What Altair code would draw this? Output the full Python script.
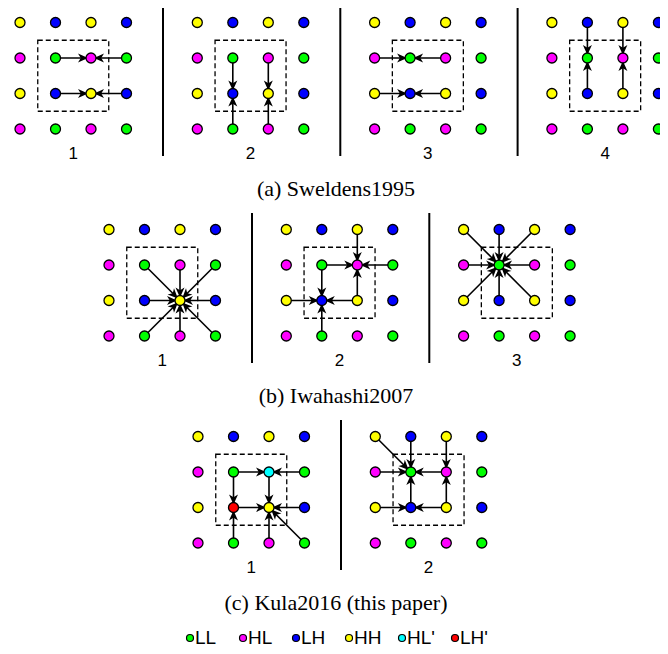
import math
import altair as alt
import pandas as pd

# ---------------- data ----------------
BANDS = ["LL", "HL", "LH", "HH", "HL'", "LH'"]
BAND_COLORS = ["#00ff00", "#ff00ff", "#0000ff", "#ffff00", "#00ffff", "#ff0000"]
COLOR_OF = dict(zip(BANDS, BAND_COLORS))

BASE_GRID = [
    ["HH", "LH", "HH", "LH"],
    ["HL", "LL", "HL", "LL"],
    ["HH", "LH", "HH", "LH"],
    ["HL", "LL", "HL", "LL"],
]
KULA_GRID_1 = [
    ["HH", "LH", "HH", "LH"],
    ["HL", "LL", "HL'", "LL"],
    ["HH", "LH'", "HH", "LH"],
    ["HL", "LL", "HL", "LL"],
]

# arrows: (row_from, col_from, row_to, col_to)
SWELDENS_STEPS = [
    [(1, 1, 1, 2), (1, 3, 1, 2), (2, 1, 2, 2), (2, 3, 2, 2)],
    [(1, 1, 2, 1), (3, 1, 2, 1), (1, 2, 2, 2), (3, 2, 2, 2)],
    [(1, 0, 1, 1), (1, 2, 1, 1), (2, 0, 2, 1), (2, 2, 2, 1)],
    [(0, 1, 1, 1), (2, 1, 1, 1), (0, 2, 1, 2), (2, 2, 1, 2)],
]
IWAHASHI_STEPS = [
    [(1, 1, 2, 2), (1, 2, 2, 2), (1, 3, 2, 2), (2, 1, 2, 2),
     (2, 3, 2, 2), (3, 1, 2, 2), (3, 2, 2, 2), (3, 3, 2, 2)],
    [(0, 2, 1, 2), (1, 1, 1, 2), (1, 3, 1, 2), (2, 2, 1, 2),
     (1, 1, 2, 1), (2, 0, 2, 1), (2, 2, 2, 1), (3, 1, 2, 1)],
    [(0, 0, 1, 1), (0, 1, 1, 1), (0, 2, 1, 1), (1, 0, 1, 1),
     (1, 2, 1, 1), (2, 0, 1, 1), (2, 1, 1, 1), (2, 2, 1, 1)],
]
KULA_STEPS = [
    [(1, 1, 1, 2), (1, 3, 1, 2), (1, 1, 2, 1), (3, 1, 2, 1), (1, 2, 2, 2),
     (2, 1, 2, 2), (2, 3, 2, 2), (3, 2, 2, 2), (3, 3, 2, 2)],
    [(0, 0, 1, 1), (0, 1, 1, 1), (1, 0, 1, 1), (1, 2, 1, 1), (2, 1, 1, 1),
     (0, 2, 1, 2), (2, 2, 1, 2), (2, 0, 2, 1), (2, 2, 2, 1)],
]
CAPTIONS = ["(a) Sweldens1995", "(b) Iwahashi2007", "(c) Kula2016 (this paper)"]

# ---------------- layout ----------------
STEP = 35.5
PANEL_STEP = 177.3
ROWS = [
    dict(top=22.5, x0=20.0, steps=SWELDENS_STEPS, grids=[BASE_GRID] * 4),
    dict(top=229.5, x0=109.0, steps=IWAHASHI_STEPS, grids=[BASE_GRID] * 3),
    dict(top=436.5, x0=198.0, steps=KULA_STEPS, grids=[KULA_GRID_1, BASE_GRID]),
]
CENTER_X = 336
R_HEAD = 400  # arrowhead symbol size (unit = 10 px)
HEAD_PATH = "M -0.3 0 L -1.3 -0.45 L -1.02 0 L -1.3 0.45 Z"

dots, lines, heads, boxes, seps, labels, caps = [], [], [], [], [], [], []
for ri, row in enumerate(ROWS):
    top = row["top"]
    bottom = top + 3 * STEP
    for pi, (steps, grid) in enumerate(zip(row["steps"], row["grids"])):
        x0 = row["x0"] + pi * PANEL_STEP
        px = lambda c: x0 + c * STEP
        py = lambda r: top + r * STEP
        for r in range(4):
            for c in range(4):
                dots.append(dict(x=px(c), y=py(r), fill=COLOR_OF[grid[r][c]]))
        for (r1, c1, r2, c2) in steps:
            lines.append(dict(x=px(c1), y=py(r1), x2=px(c2), y2=py(r2)))
            ang = math.degrees(math.atan2(py(r2) - py(r1), px(c2) - px(c1))) % 360
            heads.append(dict(x=px(c2), y=py(r2), angle=ang))
        boxes.append(dict(x=px(0.5), x2=px(2.5), y=py(0.5), y2=py(2.5)))
        labels.append(dict(x=px(1.5), y=bottom + 25, text=str(pi + 1)))
        if pi > 0:
            sx = x0 - PANEL_STEP + 143
            seps.append(dict(x=sx, y=top - 16.5, y2=bottom + 27))
    caps.append(dict(x=CENTER_X, y=bottom + 67, text=CAPTIONS[ri]))

leg_y = ROWS[2]["top"] + 3 * STEP + 95
legend_dots = [dict(x=190 + 53 * i, y=leg_y, fill=BAND_COLORS[i]) for i in range(len(BANDS))]
legend_txt = [dict(x=190 + 53 * i + 5, y=leg_y, text=BANDS[i]) for i in range(len(BANDS))]

W, H = 652, 646
X = lambda f="x": alt.X(f"{f}:Q", scale=alt.Scale(domain=[8, 8 + W]), axis=None)
Y = lambda f="y": alt.Y(f"{f}:Q", scale=alt.Scale(domain=[8, 8 + H], reverse=True), axis=None)

line_layer = alt.Chart(pd.DataFrame(lines)).mark_rule(color="black", strokeWidth=1.6).encode(
    x=X(), y=Y(), x2="x2:Q", y2="y2:Q")
head_layer = alt.Chart(pd.DataFrame(heads)).mark_point(
    shape=HEAD_PATH, filled=True, color="black", size=R_HEAD, opacity=1, strokeWidth=0
).encode(x=X(), y=Y(), angle=alt.Angle("angle:Q", scale=None))
box_layer = alt.Chart(pd.DataFrame(boxes)).mark_rect(
    fillOpacity=0, stroke="black", strokeWidth=1.3, strokeDash=[5, 3]
).encode(x=X(), y=Y(), x2="x2:Q", y2="y2:Q")
sep_layer = alt.Chart(pd.DataFrame(seps)).mark_rule(color="black", strokeWidth=2).encode(
    x=X(), y=Y(), y2="y2:Q")
dot_layer = alt.Chart(pd.DataFrame(dots)).mark_point(
    shape="circle", filled=True, size=100, stroke="black", strokeWidth=1.3, opacity=1
).encode(x=X(), y=Y(), fill=alt.Fill("fill:N", scale=None))
label_layer = alt.Chart(pd.DataFrame(labels)).mark_text(
    font="Liberation Sans", fontSize=17, color="black", align="center", baseline="middle"
).encode(x=X(), y=Y(), text="text:N")
cap_layer = alt.Chart(pd.DataFrame(caps)).mark_text(
    font="Liberation Serif", fontSize=22, color="black", align="center", baseline="alphabetic"
).encode(x=X(), y=Y(), text="text:N")
leg_dot_layer = alt.Chart(pd.DataFrame(legend_dots)).mark_point(
    shape="circle", filled=True, size=49, stroke="black", strokeWidth=1.2, opacity=1
).encode(x=X(), y=Y(), fill=alt.Fill("fill:N", scale=None))
leg_txt_layer = alt.Chart(pd.DataFrame(legend_txt)).mark_text(
    font="Liberation Sans", fontSize=19, color="black", align="left", baseline="middle"
).encode(x=X(), y=Y(), text="text:N")

chart = alt.layer(
    box_layer, sep_layer, line_layer, head_layer, dot_layer,
    label_layer, cap_layer, leg_dot_layer, leg_txt_layer
).properties(
    width=W, height=H, padding=0, autosize=alt.AutoSizeParams(type="none")
).configure_view(strokeWidth=0)

chart.save("out.html", embed_options={"renderer": "svg", "actions": False})
